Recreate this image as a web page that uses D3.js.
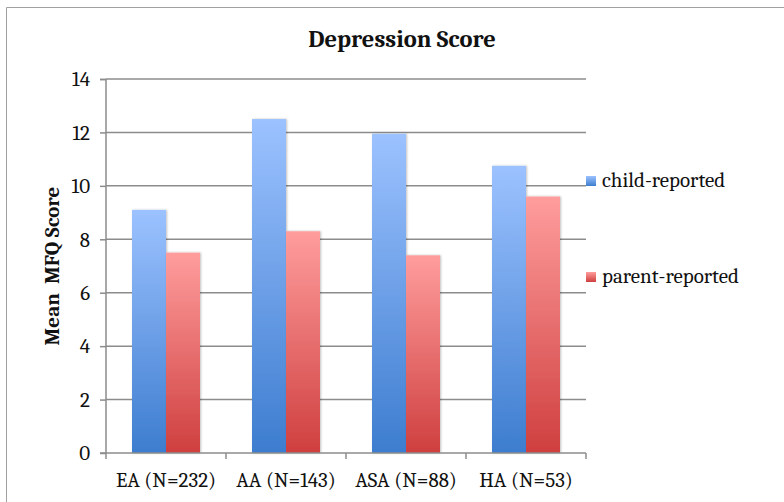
<!DOCTYPE html>
<html><head><meta charset="utf-8">
<script src="https://cdn.jsdelivr.net/npm/d3@7"></script>
<style>body{margin:0;background:#fff}</style>
</head><body>
<script>
const categories = ["EA (N=232)", "AA (N=143)", "ASA (N=88)", "HA (N=53)"];
const seriesNames = ["child-reported", "parent-reported"];
const childValues = [9.1, 12.5, 11.95, 10.75];
const parentValues = [7.5, 8.3, 7.4, 9.6];
const yTicks = [0, 2, 4, 6, 8, 10, 12, 14];

const W = 784, H = 502;
const svg = d3.select("body").append("svg").attr("width", W).attr("height", H);
const font = "Cambria, Caladea, 'Liberation Serif', 'DejaVu Serif', serif";

const defs = svg.append("defs");
const gradB = defs.append("linearGradient").attr("id","gB").attr("x1",0).attr("y1",0).attr("x2",0).attr("y2",1);
gradB.append("stop").attr("offset","0").attr("stop-color","#9cc2ff");
gradB.append("stop").attr("offset","1").attr("stop-color","#3d7dcf");
const gradR = defs.append("linearGradient").attr("id","gR").attr("x1",0).attr("y1",0).attr("x2",0).attr("y2",1);
gradR.append("stop").attr("offset","0").attr("stop-color","#ff9d9d");
gradR.append("stop").attr("offset","1").attr("stop-color","#cf3f3f");
const flt = defs.append("filter").attr("id","sh").attr("x","-20%").attr("y","-5%").attr("width","140%").attr("height","110%");
flt.append("feDropShadow").attr("dx",1).attr("dy",0).attr("stdDeviation",1.2).attr("flood-color","#000").attr("flood-opacity",0.25);

// frame
svg.append("path").attr("d","M6.5,502 V7.5 H784").attr("fill","none").attr("stroke","#a0a0a0").attr("stroke-width",1);

const x0 = d3.scaleBand().domain(categories).range([106, 586]).paddingInner(0).paddingOuter(0);
const y = d3.scaleLinear().domain([0, 14]).range([453, 79]);
const barW = 34, groupOff = 26;

// gridlines
svg.append("g").selectAll("line").data(yTicks.filter(d=>d>0)).join("line")
  .attr("x1",106).attr("x2",586).attr("y1",d=>y(d)).attr("y2",d=>y(d))
  .attr("stroke","#8c8c8c").attr("stroke-width",1.5);

// bars
const data = categories.map((c,i)=>({c, v:[childValues[i], parentValues[i]]}));
const g = svg.append("g");
data.forEach(d=>{
  d.v.forEach((v,j)=>{
    g.append("rect")
      .attr("x", x0(d.c) + groupOff + j*barW)
      .attr("y", y(v))
      .attr("width", barW)
      .attr("height", y(0) - y(v))
      .attr("fill", j===0 ? "url(#gB)" : "url(#gR)")
      .attr("filter","url(#sh)");
  });
});

// y axis
const yAxis = d3.axisLeft(y).tickValues(yTicks).tickSize(6).tickPadding(10);
const ya = svg.append("g").attr("transform","translate(106,0)").call(yAxis);
ya.attr("font-size",null).attr("font-family",null);
ya.select(".domain").attr("stroke","#8c8c8c").attr("stroke-width",1.5).attr("d","M-6,79.5H0V453H-6");
ya.selectAll(".tick line").attr("stroke","#8c8c8c").attr("stroke-width",1.5);
ya.selectAll("text").attr("font-family",font).attr("font-size",21).attr("fill","#111");

// x axis
const xAxis = d3.axisBottom(x0).tickSize(0).tickPadding(19);
const xa = svg.append("g").attr("transform","translate(0,453)").call(xAxis);
xa.attr("font-size",null).attr("font-family",null);
xa.select(".domain").attr("stroke","#8c8c8c").attr("stroke-width",1.5).attr("d","M106,0H586");
xa.selectAll("text").attr("font-family",font).attr("font-size",21).attr("fill","#111");
xa.append("g").selectAll("line").data(d3.range(categories.length+1)).join("line")
  .attr("x1",i=>106+i*x0.bandwidth()).attr("x2",i=>106+i*x0.bandwidth())
  .attr("y1",0).attr("y2",6).attr("stroke","#8c8c8c").attr("stroke-width",1.5);

// title
svg.append("text").attr("x",402).attr("y",47).attr("text-anchor","middle")
  .attr("font-family",font).attr("font-weight","bold").attr("font-size",24.5).attr("fill","#111")
  .text("Depression Score");

// y label
svg.append("text").attr("transform","translate(59,266) rotate(-90)").attr("text-anchor","middle")
  .attr("font-family",font).attr("font-weight","bold").attr("font-size",21).attr("fill","#111")
  .attr("xml:space","preserve").style("white-space","pre")
  .text("Mean  MFQ Score");

// legend
const legY = [181, 277];
const legFills = ["url(#gB)","url(#gR)"];
seriesNames.forEach((s,i)=>{
  svg.append("rect").attr("x",586).attr("y",legY[i]-5).attr("width",10).attr("height",10).attr("fill",legFills[i]);
  svg.append("text").attr("x",602).attr("y",legY[i]+6).attr("font-family",font).attr("font-size",21).attr("fill","#111").text(s);
});
</script>
</body></html>
